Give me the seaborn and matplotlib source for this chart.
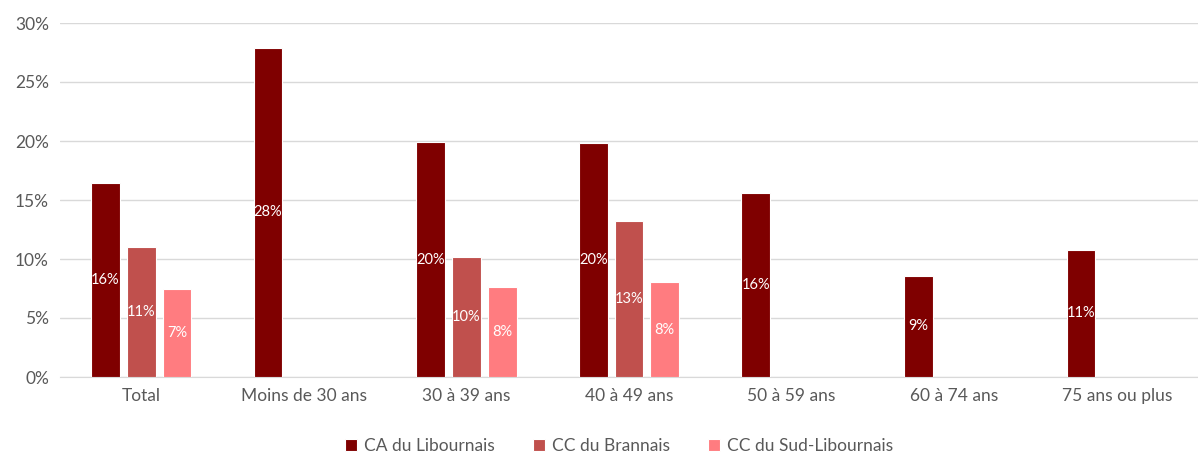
import numpy as np
import pandas as pd
import matplotlib
matplotlib.use("Agg")
import matplotlib.pyplot as plt
import seaborn as sns

categories = ["Total", "Moins de 30 ans", "30 à 39 ans", "40 à 49 ans",
              "50 à 59 ans", "60 à 74 ans", "75 ans ou plus"]
series = ["CA du Libournais", "CC du Brannais", "CC du Sud-Libournais"]
ca_libournais = [16.4, 27.9, 19.9, 19.8, 15.6, 8.6, 10.8]
cc_brannais = [11.0, np.nan, 10.2, 13.2, np.nan, np.nan, np.nan]
cc_sud_libournais = [7.45, np.nan, 7.65, 8.05, np.nan, np.nan, np.nan]
colors = ["#7F0000", "#C0504D", "#FF7C80"]

rows = []
for name, vals in zip(series, [ca_libournais, cc_brannais, cc_sud_libournais]):
    for cat, v in zip(categories, vals):
        if not np.isnan(v):
            rows.append({"cat": cat, "serie": name, "val": v})
df = pd.DataFrame(rows)

sns.set_style("white")
plt.rcParams['font.family'] = ['Lato', 'DejaVu Sans']

fig = plt.figure(figsize=(11.98, 4.55), dpi=100)
ax = fig.add_axes([60 / 1198, 1 - 377 / 455, 1 - 60 / 1198, (377 - 23) / 455])

sns.barplot(data=df, x="cat", y="val", hue="serie", order=categories,
            hue_order=series, palette=colors, saturation=1, errorbar=None,
            width=0.66, gap=0.2, edgecolor="white", linewidth=0.8, ax=ax, zorder=3)

for cont in ax.containers:
    for bar in cont:
        h = bar.get_height()
        if np.isnan(h) or h == 0:
            continue
        ax.text(bar.get_x() + bar.get_width() / 2, h / 2, f"{round(h):.0f}%",
                ha="center", va="center", color="white", fontsize=10.5, zorder=4)

ax.set_ylim(0, 30)
ax.set_xlim(-0.5, 6.5)
ax.set_yticks(range(0, 31, 5))
ax.set_yticklabels([f"{t}%" for t in range(0, 31, 5)])
ax.yaxis.grid(True, color="#D9D9D9", linewidth=1, zorder=0)
ax.set_axisbelow(True)
for s in ["top", "right", "left"]:
    ax.spines[s].set_visible(False)
ax.spines["bottom"].set_color("#D9D9D9")
ax.tick_params(axis="both", length=0, labelsize=12.5, colors="#595959", pad=8)
ax.set_xlabel("")
ax.set_ylabel("")

handles, labels = ax.get_legend_handles_labels()
ax.legend(handles, labels, loc="center", bbox_to_anchor=(0.5 - 10 / 1138, -0.195),
          ncol=3, frameon=False, fontsize=12.5, handlelength=0.7, handleheight=0.7,
          columnspacing=2.2, handletextpad=0.4, labelcolor="#595959")

fig.savefig("out.png", dpi=100)
